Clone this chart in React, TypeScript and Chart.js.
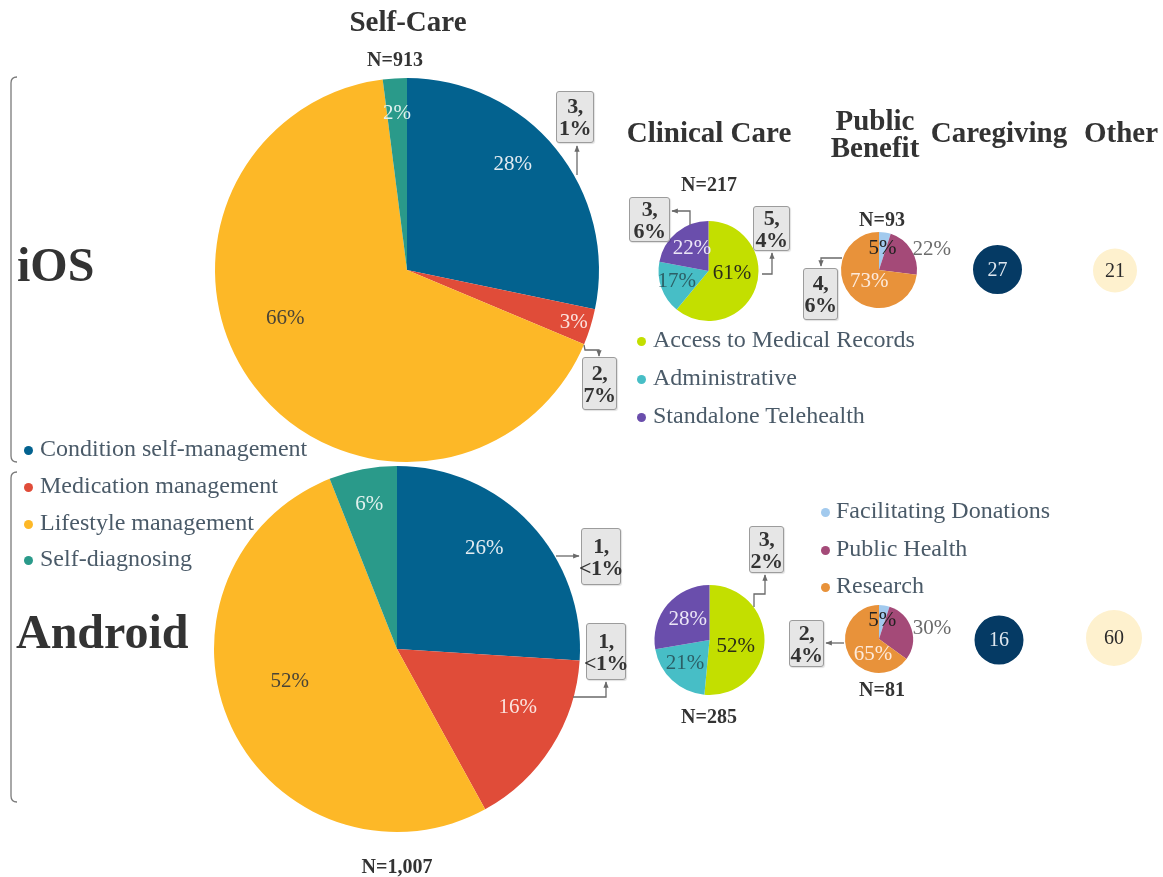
import React, { useEffect, useRef } from "react";
import { Chart, registerables } from "chart.js";
Chart.register(...registerables);

const W = 1163;
const H = 877;
const FONT = '"Liberation Serif", "DejaVu Serif", serif';

// ---------- data ----------
const selfCareCategories = ["Condition self-management", "Medication management", "Lifestyle management", "Self-diagnosing"];
const selfCareColors = ["#03628F", "#E04C39", "#FDB827", "#2A9A8A"];
const selfCareIOS = [28, 3, 66, 2];
const selfCareAndroid = [26, 16, 52, 6];

const clinicalCategories = ["Access to Medical Records", "Administrative", "Standalone Telehealth"];
const clinicalColors = ["#C3DF00", "#47BEC6", "#6A4EAC"];
const clinicalIOS = [61, 17, 22];
const clinicalAndroid = [52, 21, 28];

const publicCategories = ["Facilitating Donations", "Public Health", "Research"];
const publicColors = ["#A2CAEE", "#A44A78", "#E8923A"];
const publicIOS = [5, 22, 73];
const publicAndroid = [5, 30, 65];

const caregivingCounts = [27, 16]; // iOS, Android
const otherCounts = [21, 60]; // iOS, Android

const groupTitles = ["Self-Care", "Clinical Care", "Public Benefit", "Caregiving", "Other"];
const totalsIOS = ["N=913", "N=217", "N=93"];
const totalsAndroid = ["N=1,007", "N=285", "N=81"];

const calloutTexts = ["3,\n1%", "2,\n7%", "3,\n6%", "5,\n4%", "4,\n6%", "1,\n<1%", "1,\n<1%", "3,\n2%", "2,\n4%"];

// ---------- layout / style ----------
type PieSpec = {
  labels: string[];
  values: number[];
  colors: string[];
  cx: number;
  cy: number;
  r: number;
  labelColors: string[];
  frac: number[];
  shift: number[];
  suffix: string;
  fontSize: number;
};

const pies: PieSpec[] = [
  { labels: selfCareCategories, values: selfCareIOS, colors: selfCareColors, cx: 407, cy: 270, r: 192,
    labelColors: ["#e3ebf1", "#fbe3de", "#4a4436", "#e1f1ee"], frac: [0.78, 0.91, 0.68, 0.82], shift: [-6, 0, 16, 0], suffix: "%", fontSize: 21 },
  { labels: selfCareCategories, values: selfCareAndroid, colors: selfCareColors, cx: 397, cy: 649, r: 183,
    labelColors: ["#e3ebf1", "#fbe3de", "#4a4436", "#e1f1ee"], frac: [0.73, 0.73, 0.61, 0.81], shift: [-6, -7, 9, 0], suffix: "%", fontSize: 21 },
  { labels: clinicalCategories, values: clinicalIOS, colors: clinicalColors, cx: 708.5, cy: 271, r: 50,
    labelColors: ["#2b2d18", "#2c5f66", "#ece6f7"], frac: [0.47, 0.66, 0.57], shift: [-15, 4, 4], suffix: "%", fontSize: 21 },
  { labels: clinicalCategories, values: clinicalAndroid, colors: clinicalColors, cx: 709.5, cy: 640, r: 55,
    labelColors: ["#2b2d18", "#2c5f66", "#ece6f7"], frac: [0.49, 0.61, 0.55], shift: [10, 4, 4], suffix: "%", fontSize: 21 },
  { labels: publicCategories, values: publicIOS, colors: publicColors, cx: 879, cy: 270, r: 38,
    labelColors: ["#222222", "#6b6b6b", "#fdeadb"], frac: [0.59, 1.5, 0.37], shift: [0, 10, -4], suffix: "%", fontSize: 21 },
  { labels: publicCategories, values: publicAndroid, colors: publicColors, cx: 879, cy: 639, r: 34,
    labelColors: ["#222222", "#6b6b6b", "#fdeadb"], frac: [0.59, 1.59, 0.45], shift: [0, 6, -40], suffix: "%", fontSize: 21 },
  { labels: ["Caregiving"], values: [caregivingCounts[0]], colors: ["#053A64"], cx: 997.5, cy: 269.5, r: 24.5,
    labelColors: ["#dfe7ef"], frac: [0], shift: [0], suffix: "", fontSize: 20 },
  { labels: ["Caregiving"], values: [caregivingCounts[1]], colors: ["#053A64"], cx: 999, cy: 640, r: 24.5,
    labelColors: ["#dfe7ef"], frac: [0], shift: [0], suffix: "", fontSize: 20 },
  { labels: ["Other"], values: [otherCounts[0]], colors: ["#FEF1CE"], cx: 1115, cy: 270.5, r: 22,
    labelColors: ["#2a2a2a"], frac: [0], shift: [0], suffix: "", fontSize: 20 },
  { labels: ["Other"], values: [otherCounts[1]], colors: ["#FEF1CE"], cx: 1114, cy: 638, r: 28,
    labelColors: ["#2a2a2a"], frac: [0], shift: [0], suffix: "", fontSize: 20 },
];

function makeLabelPlugin(spec: PieSpec) {
  return {
    id: "sliceLabels",
    afterDatasetsDraw(chart: any) {
      const ctx = chart.ctx;
      const meta = chart.getDatasetMeta(0);
      const data = chart.data.datasets[0].data;
      ctx.save();
      ctx.font = `${spec.fontSize}px ${FONT}`;
      ctx.textAlign = "center";
      ctx.textBaseline = "middle";
      meta.data.forEach((arc: any, i: number) => {
        const p = arc.getProps(["x", "y", "startAngle", "endAngle", "outerRadius"], true);
        const a = (p.startAngle + p.endAngle) / 2 + ((spec.shift[i] || 0) * Math.PI) / 180;
        const d = (spec.frac[i] ?? 0.6) * p.outerRadius;
        ctx.fillStyle = spec.labelColors[i];
        ctx.fillText(`${data[i]}${spec.suffix}`, p.x + Math.cos(a) * d, p.y + Math.sin(a) * d + 1);
      });
      ctx.restore();
    },
  };
}

function PieCanvas({ spec }: { spec: PieSpec }) {
  const ref = useRef<HTMLCanvasElement>(null);
  useEffect(() => {
    const chart = new Chart(ref.current as HTMLCanvasElement, {
      type: "pie",
      data: {
        labels: spec.labels,
        datasets: [
          {
            data: spec.values,
            backgroundColor: spec.colors,
            borderWidth: 0,
            hoverOffset: 0,
            radius: spec.r,
          } as any,
        ],
      },
      options: {
        responsive: false,
        animation: false,
        devicePixelRatio: 1,
        events: [],
        layout: {
          padding: {
            left: spec.cx - spec.r,
            top: spec.cy - spec.r,
            right: W - spec.cx - spec.r,
            bottom: H - spec.cy - spec.r,
          },
        },
        plugins: { legend: { display: false }, tooltip: { enabled: false } },
      } as any,
      plugins: [makeLabelPlugin(spec)],
    });
    return () => chart.destroy();
  }, []);
  return <canvas ref={ref} width={W} height={H} style={{ position: "absolute", left: 0, top: 0 }} />;
}

function Txt({ x, y, children, size, bold, color, align }: any) {
  return (
    <div
      style={{
        position: "absolute",
        left: x,
        top: y,
        transform: align === "left" ? "translate(0,-50%)" : "translate(-50%,-50%)",
        whiteSpace: "nowrap",
        fontSize: size,
        fontWeight: bold ? 700 : 400,
        color: color || "#333333",
        lineHeight: 1,
        fontFamily: FONT,
        textAlign: "center",
      }}
    >
      {children}
    </div>
  );
}

function Legend({ items, colors, dotX, textX, ys }: any) {
  return (
    <>
      {items.map((t: string, i: number) => (
        <React.Fragment key={t}>
          <div
            style={{
              position: "absolute",
              left: dotX - 4.5,
              top: ys[i] - 4.5 + 2,
              width: 9,
              height: 9,
              borderRadius: "50%",
              background: colors[i],
            }}
          />
          <Txt x={textX} y={ys[i]} size={24} color="#4a5a68" align="left">
            {t}
          </Txt>
        </React.Fragment>
      ))}
    </>
  );
}

const boxes = [
  { x: 556, y: 91, w: 38, h: 52 },
  { x: 582, y: 357, w: 35, h: 53 },
  { x: 629, y: 197, w: 41, h: 45 },
  { x: 753, y: 206, w: 37, h: 45 },
  { x: 803, y: 268, w: 35, h: 52 },
  { x: 581, y: 528, w: 40, h: 57 },
  { x: 586, y: 623, w: 40, h: 57 },
  { x: 749, y: 526, w: 35, h: 47 },
  { x: 789, y: 620, w: 35, h: 47 },
];

const connectors = [
  "577,175 577,146",
  "584,345 585,350 599,350 599,356",
  "690,225 690,211 672,211",
  "762,274 772,274 772,253",
  "842,258 821,258 821,266",
  "556,556 579,556",
  "573,697 606,697 606,682",
  "754,607 754,594 765,594 765,575",
  "844,643 826,643",
];

export default function App() {
  useEffect(() => {
    document.body.style.margin = "0";
  }, []);
  return (
    <div style={{ position: "absolute", left: 0, top: 0, width: W, height: H, background: "#ffffff", overflow: "hidden", fontFamily: FONT }}>
      {pies.map((p, i) => (
        <PieCanvas key={i} spec={p} />
      ))}

      <svg width={W} height={H} style={{ position: "absolute", left: 0, top: 0 }}>
        <defs>
          <marker id="arr" viewBox="0 0 10 10" refX="9" refY="5" markerWidth="5" markerHeight="5" orient="auto-start-reverse">
            <path d="M0,1 L10,5 L0,9 z" fill="#6a6a6a" />
          </marker>
        </defs>
        <path d="M17,77 Q11,77 11,83 L11,456 Q11,462 17,462" fill="none" stroke="#7a7a7a" strokeWidth={1.3} />
        <path d="M17,472 Q11,472 11,478 L11,796 Q11,802 17,802" fill="none" stroke="#7a7a7a" strokeWidth={1.3} />
        {connectors.map((pts, i) => (
          <polyline key={i} points={pts} fill="none" stroke="#6a6a6a" strokeWidth={1.3} markerEnd="url(#arr)" />
        ))}
      </svg>

      {boxes.map((b, i) => (
        <div
          key={i}
          style={{
            position: "absolute",
            left: b.x,
            top: b.y,
            width: b.w,
            height: b.h,
            boxSizing: "border-box",
            background: "#e6e6e6",
            border: "1.3px solid #9c9c9c",
            borderRadius: 3,
            boxShadow: "1px 1px 1px rgba(0,0,0,0.12)",
            display: "flex",
            alignItems: "center",
            justifyContent: "center",
            whiteSpace: "pre",
            textAlign: "center",
            fontFamily: FONT,
            fontWeight: 700,
            fontSize: 22,
            lineHeight: "22px",
            color: "#333333",
            letterSpacing: -0.5,
          }}
        >
          {calloutTexts[i]}
        </div>
      ))}

      {/* titles */}
      <Txt x={408} y={21} size={29} bold>{groupTitles[0]}</Txt>
      <Txt x={709} y={132} size={29} bold>{groupTitles[1]}</Txt>
      <Txt x={875} y={120} size={29} bold>{groupTitles[2].split(" ")[0]}</Txt>
      <Txt x={875} y={147} size={29} bold>{groupTitles[2].split(" ")[1]}</Txt>
      <Txt x={999} y={132} size={29} bold>{groupTitles[3]}</Txt>
      <Txt x={1121} y={132} size={29} bold>{groupTitles[4]}</Txt>

      {/* totals */}
      <Txt x={395} y={59} size={20} bold>{totalsIOS[0]}</Txt>
      <Txt x={709} y={184} size={20} bold>{totalsIOS[1]}</Txt>
      <Txt x={882} y={219} size={20} bold>{totalsIOS[2]}</Txt>
      <Txt x={397} y={866} size={20} bold>{totalsAndroid[0]}</Txt>
      <Txt x={709} y={716} size={20} bold>{totalsAndroid[1]}</Txt>
      <Txt x={882} y={689} size={20} bold>{totalsAndroid[2]}</Txt>

      {/* platform labels */}
      <Txt x={17} y={265} size={48} bold align="left">iOS</Txt>
      <Txt x={16} y={632} size={48} bold align="left">Android</Txt>

      <Legend items={selfCareCategories} colors={selfCareColors} dotX={28} textX={40} ys={[448, 485, 522, 558]} />
      <Legend items={clinicalCategories} colors={clinicalColors} dotX={641} textX={653} ys={[339, 377, 415]} />
      <Legend items={publicCategories} colors={publicColors} dotX={825} textX={836} ys={[510, 548, 585]} />
    </div>
  );
}
